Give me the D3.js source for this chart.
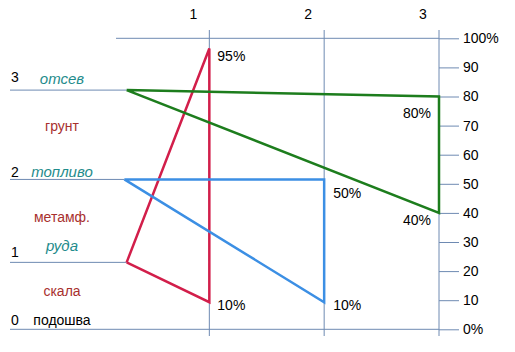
<!DOCTYPE html>
<html>
<head>
<meta charset="utf-8">
<script src="https://cdn.jsdelivr.net/npm/d3@7"></script>
<style>
  body { margin: 0; background: #fff; }
  text { font-family: "Liberation Sans", Arial, sans-serif; }
</style>
</head>
<body>
<div id="chart"></div>
<script>
const levelNames = ["0", "1", "2", "3"];
const levelPct = [0, 23, 51.5, 82.2];
const contacts = ["подошва", "руда", "топливо", "отсев"];
const rocks = ["скала", "метамф.", "грунт"];

// columns along the top
const columns = [1, 2, 3];
const pctTicks = [0, 10, 20, 30, 40, 50, 60, 70, 80, 90, 100];

// triangles: [column, percent]
const redSeries = [[0.28, 23], [1, 96.5], [1, 9.3], [0.28, 23]];
const blueSeries = [[0.26, 51.5], [2, 51.5], [2, 9.3], [0.26, 51.5]];
const greenSeries = [[0.28, 82.2], [3, 80], [3, 40], [0.28, 82.2]];

// percent labels: text, column, percent
const pctLabels = [
  ["95%", 1, 96.5], ["10%", 1, 9.3],
  ["50%", 2, 51.5], ["10%", 2, 9.3],
  ["80%", 3, 80], ["40%", 3, 40]
];

function ChartConfig() {
  let config = {
    width: 515,
    height: 352,
    axisColor: "#6e8ab2",
    redColor: "#d21e4a",
    blueColor: "#3c8fe4",
    greenColor: "#1d7d1d",
    tealColor: "#1f8c8c",
    rockColor: "#a8302e",
    lineWidth: 2.5,
    tickLen: 20,
    container: d3.select("#chart").append("svg")
  };
  config.container
    .attr("width", config.width)
    .attr("height", config.height);
  config.x = d3.scaleLinear().domain([0, 3]).range([94.5, 439]);
  config.y = d3.scaleLinear().domain([0, 100]).range([329.3, 38.3]);
  return config;
}

let cfg = ChartConfig();
let svg = cfg.container;
let x = cfg.x, y = cfg.y;

// column grid lines
svg.selectAll(".colLine")
  .data(columns)
  .enter()
  .append("line")
  .attr("x1", d => x(d)).attr("x2", d => x(d))
  .attr("y1", 30).attr("y2", 336)
  .attr("stroke", cfg.axisColor)
  .attr("stroke-width", 1);

svg.selectAll(".colLabel")
  .data(columns)
  .enter()
  .append("text")
  .attr("x", d => x(d) - 16)
  .attr("y", 19)
  .attr("text-anchor", "middle")
  .attr("font-size", 14)
  .text(d => d);

// top line (100%)
svg.append("line")
  .attr("x1", 116).attr("x2", x(3))
  .attr("y1", y(100)).attr("y2", y(100))
  .attr("stroke", cfg.axisColor);

// level lines
svg.selectAll(".levelLine")
  .data(levelPct)
  .enter()
  .append("line")
  .attr("x1", 10)
  .attr("x2", (d, i) => i === 0 ? x(3) : x(i === 2 ? 0.26 : 0.28))
  .attr("y1", d => y(d)).attr("y2", d => y(d))
  .attr("stroke", cfg.axisColor);

// right axis
let axis = d3.axisRight(y)
  .tickValues(pctTicks)
  .tickSize(cfg.tickLen)
  .tickPadding(4)
  .tickFormat(d => (d === 0 || d === 100) ? d + "%" : d);

let axisG = svg.append("g")
  .attr("transform", `translate(${x(3)},0)`)
  .call(axis);
axisG.select(".domain").remove();
axisG.selectAll(".tick line").attr("stroke", cfg.axisColor);
axisG.selectAll(".tick text")
  .attr("font-size", 14)
  .attr("font-family", "Liberation Sans, Arial, sans-serif")
  .attr("fill", "#000");

// triangles
let line = d3.line().x(d => x(d[0])).y(d => y(d[1]));
[[redSeries, cfg.redColor], [blueSeries, cfg.blueColor], [greenSeries, cfg.greenColor]]
  .forEach(s => {
    svg.append("path")
      .attr("d", line(s[0]))
      .attr("fill", "none")
      .attr("stroke", s[1])
      .attr("stroke-width", cfg.lineWidth)
      .attr("stroke-linejoin", "miter");
  });

// percent labels
let labelOffset = {
  "1": { dx: 8, anchor: "start" },
  "2": { dx: 9, anchor: "start" },
  "3": { dx: -8, anchor: "end" }
};
let labelDy = [13, 8, 19, 8, 21, 12];
svg.selectAll(".pctLabel")
  .data(pctLabels)
  .enter()
  .append("text")
  .attr("x", d => x(d[1]) + labelOffset[d[1]].dx)
  .attr("y", (d, i) => y(d[2]) + labelDy[i])
  .attr("text-anchor", d => labelOffset[d[1]].anchor)
  .attr("font-size", 14)
  .text(d => d[0]);

// level numbers
let levelDy = [-4, -5, -2, -8];
svg.selectAll(".levelName")
  .data(levelNames)
  .enter()
  .append("text")
  .attr("x", 11)
  .attr("y", (d, i) => y(levelPct[i]) + levelDy[i])
  .attr("font-size", 14)
  .text(d => d);

// contact labels
let contactDy = [-4, -11, -2, -6];
svg.selectAll(".contact")
  .data(contacts)
  .enter()
  .append("text")
  .attr("x", 62)
  .attr("y", (d, i) => y(levelPct[i]) + contactDy[i])
  .attr("text-anchor", "middle")
  .attr("font-size", d => d === "подошва" ? 14 : 15)
  .attr("font-style", d => d === "подошва" ? "normal" : "italic")
  .attr("fill", d => d === "подошва" ? "#000" : cfg.tealColor)
  .text(d => d);

// rock labels between levels
let rockDy = [0, 1, -4];
svg.selectAll(".rock")
  .data(rocks)
  .enter()
  .append("text")
  .attr("x", 62)
  .attr("y", (d, i) => y((levelPct[i] + levelPct[i + 1]) / 2) + rockDy[i])
  .attr("text-anchor", "middle")
  .attr("font-size", 14)
  .attr("fill", cfg.rockColor)
  .text(d => d);
</script>
</body>
</html>
